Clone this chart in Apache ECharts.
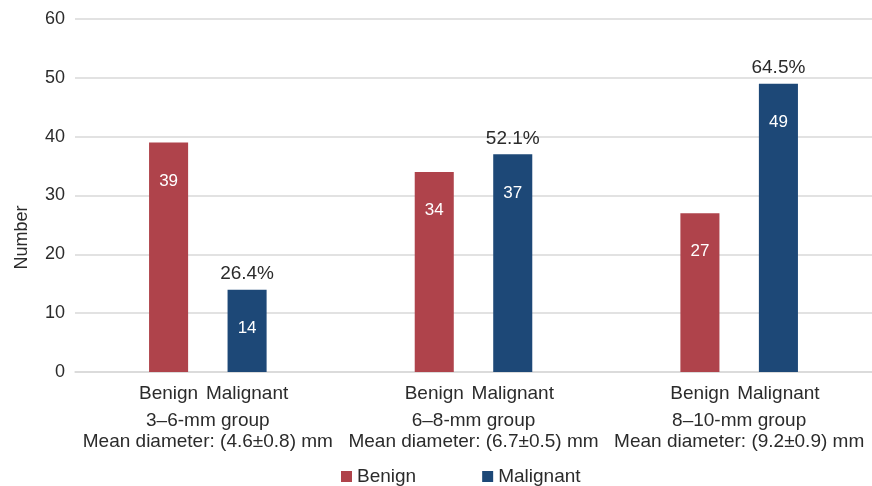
<!DOCTYPE html>
<html>
<head>
<meta charset="utf-8">
<script src="https://cdn.jsdelivr.net/npm/echarts@6/dist/echarts.min.js"></script>
<style>html,body{margin:0;padding:0;background:#fff;}#c{width:872px;height:486px;}</style>
</head>
<body>
<div id="c"></div>
<script>
const groups = ['3–6-mm group', '6–8-mm group', '8–10-mm group'];
const diameters = ['Mean diameter: (4.6±0.8) mm', 'Mean diameter: (6.7±0.5) mm', 'Mean diameter: (9.2±0.9) mm'];
const seriesNames = ['Benign', 'Malignant'];
const benign = [39, 34, 27];
const malignant = [14, 37, 49];
const malignantPct = ['26.4%', '52.1%', '64.5%'];
const yTicks = { min: 0, max: 60, interval: 10 };

const FONT = 'Liberation Sans';
const RED = '#AF434B';
const BLUE = '#1D4877';
const TXT = '#2b2b2b';

function nameMarks(values, name) {
  return values.map((v, i) => ({ coord: [i, 0], name: name }));
}

const chart = echarts.init(document.getElementById('c'), null, { renderer: 'canvas' });
chart.setOption({
  animation: false,
  textStyle: { fontFamily: FONT },
  grid: { left: 75, right: -4, top: 19, bottom: 114 },
  legend: {
    data: seriesNames,
    top: 467,
    left: 341,
    padding: 0,
    itemWidth: 11,
    itemHeight: 11,
    itemGap: 66,
    icon: 'rect',
    textStyle: { fontFamily: FONT, fontSize: 19, color: TXT }
  },
  xAxis: {
    type: 'category',
    data: groups,
    axisTick: { show: false },
    axisLine: { lineStyle: { color: '#d9d9d9', width: 1.5 } },
    axisLabel: {
      margin: 38,
      fontFamily: FONT,
      fontSize: 19,
      lineHeight: 21,
      color: TXT,
      interval: 0,
      formatter: (v, i) => v + '\n' + diameters[i]
    }
  },
  yAxis: {
    type: 'value',
    min: yTicks.min,
    max: yTicks.max,
    interval: yTicks.interval,
    name: 'Number',
    nameLocation: 'middle',
    nameRotate: 90,
    nameGap: 44,
    nameTextStyle: { fontFamily: FONT, fontSize: 18, color: TXT, padding: [0, 84, 0, 0] },
    axisLabel: { fontFamily: FONT, fontSize: 18, color: TXT, margin: 10 },
    splitLine: { lineStyle: { color: '#d9d9d9', width: 1.5 } },
    axisLine: { show: false },
    axisTick: { show: false }
  },
  series: [
    {
      name: 'Benign',
      type: 'bar',
      data: benign,
      barWidth: '14.7%',
      barGap: '101%',
      itemStyle: { color: RED },
      label: { show: true, position: 'insideTop', distance: 30, color: '#fff', fontSize: 17, fontFamily: FONT },
      markPoint: {
        symbol: 'rect', symbolSize: 1,
        itemStyle: { color: 'rgba(0,0,0,0)' },
        label: { show: true, position: 'bottom', distance: 12, color: TXT, fontSize: 19, fontFamily: FONT, formatter: '{b}' },
        data: nameMarks(benign, 'Benign')
      }
    },
    {
      name: 'Malignant',
      type: 'bar',
      data: malignant,
      barWidth: '14.7%',
      barGap: '101%',
      itemStyle: { color: BLUE },
      label: { show: true, position: 'insideTop', distance: 30, color: '#fff', fontSize: 17, fontFamily: FONT },
      markPoint: {
        symbol: 'rect', symbolSize: 1,
        itemStyle: { color: 'rgba(0,0,0,0)' },
        data: nameMarks(malignant, 'Malignant').map(d => Object.assign(d, {
          label: { show: true, position: 'bottom', distance: 12, color: TXT, fontSize: 19, fontFamily: FONT, formatter: '{b}' }
        })).concat(malignant.map((v, i) => ({
          coord: [i, v], name: malignantPct[i],
          label: { show: true, position: 'top', distance: 6, color: TXT, fontSize: 19, fontFamily: FONT, formatter: '{b}' }
        })))
      }
    }
  ]
});
</script>
</body>
</html>
